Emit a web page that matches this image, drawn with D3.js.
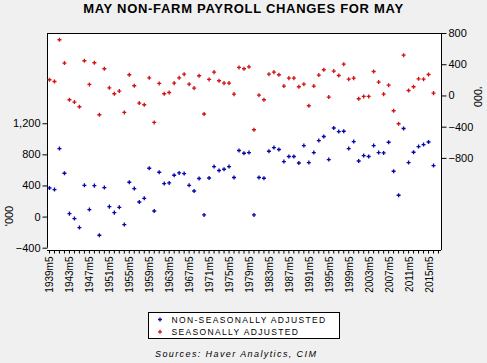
<!DOCTYPE html>
<html>
<head>
<meta charset="utf-8">
<script src="https://cdn.jsdelivr.net/npm/d3@7"></script>
<style>
  html, body { margin: 0; padding: 0; background: #f0f0f0; }
  svg { display: block; font-family: "Liberation Sans", Arial, sans-serif; }
</style>
</head>
<body>
<svg id="chart" width="487" height="363"></svg>
<script>
// ---- Data (May of each year) ----
const years = d3.range(1939, 2017); // 1939..2016
const axisYears = d3.range(1939, 2018); // axis runs one extra year
const nsa = [368, 347, 874, 557, 38, -26, -141, 402, 90, 398,
  -240, 373, 128, 51, 119, -103, 441, 360, 188, 235,
  621, 72, 570, 424, 433, 531, 561, 553, 402, 329,
  489, 21, 496, 643, 592, 608, 643, 502, 849, 814,
  823, 21, 502, 493, 840, 887, 862, 707, 772, 772,
  689, 913, 694, 823, 977, 1029, 733, 1139, 1093, 1097,
  874, 964, 715, 784, 772, 913, 823, 818, 955, 583,
  274, 1132, 694, 827, 900, 926, 959, 656];
const sa = [201, 179, 713, 415, -55, -85, -145, 444, 141, 419,
  -247, 342, 98, 22, 56, -217, 265, 124, -98, -119,
  226, -345, 154, 22, 38, 158, 226, 273, 145, 94,
  252, -238, 205, 299, 188, 158, 158, 17, 359, 342,
  367, -439, 4, -55, 273, 299, 265, 120, 222, 222,
  111, 145, -132, 120, 261, 329, -21, 312, 256, 401,
  209, 222, -42, -12, -12, 307, 171, 17, 132, -196,
  -362, 516, 64, 111, 213, 209, 269, 30];
const leftTicks = [-400, 0, 400, 800, 1200];
const rightTicks = [-800, -400, 0, 400, 800];
const labelYears = d3.range(1939, 2018, 4);
const seriesNames = ["NON-SEASONALLY ADJUSTED", "SEASONALLY ADJUSTED"];
const colors = ["#0808a8", "#d01414"];

// ---- Layout ----
const svg = d3.select("#chart");
const L = 47, R = 441, T = 33, B = 250, YB = 247.7;

const x = d3.scaleBand().domain(axisYears).range([L, R]);
const yL = d3.scaleLinear().domain([-400, 2360]).range([YB, T]);
const yR = d3.scaleLinear().domain([-1950, 800]).range([YB, T]);

// plot background
svg.append("rect").attr("x", L).attr("y", T).attr("width", R - L).attr("height", B - T).attr("fill", "#fff");

// title
svg.append("text").attr("x", 243.5).attr("y", 13)
  .attr("text-anchor", "middle").attr("font-weight", "bold").attr("font-size", 13)
  .attr("letter-spacing", 0.7)
  .text("MAY NON-FARM PAYROLL CHANGES FOR MAY");

// top frame line
svg.append("line").attr("x1", L).attr("x2", R).attr("y1", T + 0.5).attr("y2", T + 0.5).attr("stroke", "#000");

// left axis
const gl = svg.append("g").attr("transform", `translate(${L + 0.5},0)`)
  .call(d3.axisLeft(yL).tickValues(leftTicks).tickSize(5).tickPadding(2).tickFormat(d3.format(",")));
gl.select(".domain").attr("d", `M0,${T}V${YB}`);
gl.selectAll("text").attr("font-size", 11).attr("font-family", "Liberation Sans, Arial, sans-serif").attr("fill", "#000");

// right axis
const gr = svg.append("g").attr("transform", `translate(${R + 0.5},0)`)
  .call(d3.axisRight(yR).tickValues(rightTicks).tickSize(5).tickPadding(2).tickFormat(d3.format(",")));
gr.select(".domain").attr("d", `M0,${T}V${B}`);
gr.selectAll("text").attr("font-size", 11).attr("font-family", "Liberation Sans, Arial, sans-serif").attr("fill", "#000");

// bottom axis
const gb = svg.append("g").attr("transform", `translate(0,${B + 0.5})`)
  .call(d3.axisBottom(x).tickSize(3).tickFormat(d => labelYears.includes(d) ? d + "m5" : ""));
gb.select(".domain").attr("d", `M${L},0H${R}`);
gb.selectAll("text")
  .attr("font-size", 10).attr("font-family", "Liberation Sans, Arial, sans-serif").attr("fill", "#000")
  .attr("text-anchor", "end").attr("dy", null).attr("y", 0)
  .attr("transform", "translate(0.5,6) rotate(-90)")
  .attr("dominant-baseline", "central");

// axis unit labels
svg.append("text").attr("transform", "translate(9,216) rotate(-90)")
  .attr("text-anchor", "middle").attr("dominant-baseline", "central").attr("font-size", 11).text("'000");
svg.append("text").attr("transform", "translate(478,97) rotate(90)")
  .attr("text-anchor", "middle").attr("dominant-baseline", "central").attr("font-size", 11).text("'000");

// markers
const cross = d3.symbol().type(d3.symbolCross).size(9);
svg.append("g").selectAll("path").data(years.map((yr, i) => [yr, nsa[i]])).join("path")
  .attr("transform", d => `translate(${x(d[0]) + x.bandwidth() / 2},${yL(d[1])})`)
  .attr("d", cross).attr("fill", colors[0]);
svg.append("g").selectAll("path").data(years.map((yr, i) => [yr, sa[i]])).join("path")
  .attr("transform", d => `translate(${x(d[0]) + x.bandwidth() / 2},${yR(d[1])})`)
  .attr("d", cross).attr("fill", colors[1]);

// legend
const lg = svg.append("g");
lg.append("rect").attr("x", 148.5).attr("y", 312.5).attr("width", 191).attr("height", 26)
  .attr("fill", "#fff").attr("stroke", "#000");
seriesNames.forEach((name, i) => {
  const yy = 319.5 + i * 12.3;
  lg.append("path").attr("transform", `translate(160,${yy})`).attr("d", cross).attr("fill", colors[i]);
  lg.append("text").attr("x", 171.5).attr("y", yy).attr("dominant-baseline", "central")
    .attr("font-size", 8.5).attr("letter-spacing", 1.35).text(name);
});

// source
svg.append("text").attr("x", 155).attr("y", 353.5).attr("dominant-baseline", "central")
  .attr("font-size", 9).attr("font-style", "italic").attr("letter-spacing", 1.4)
  .text("Sources:  Haver Analytics, CIM");
</script>
</body>
</html>
